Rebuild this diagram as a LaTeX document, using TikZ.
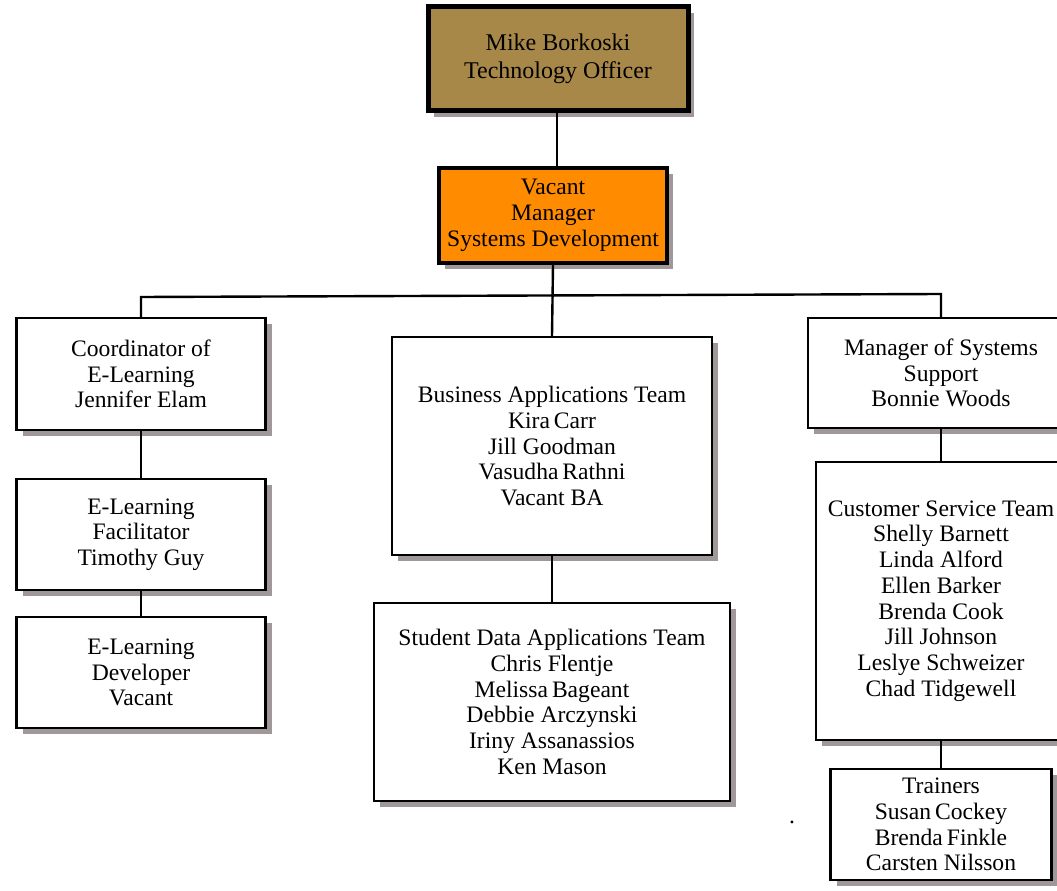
\documentclass[tikz,border=0pt]{standalone}
\usepackage{fontspec}
\setmainfont{Liberation Serif}
\usetikzlibrary{shadows}
\definecolor{officergold}{RGB}{168,136,72}
\definecolor{devorange}{RGB}{255,140,0}
\definecolor{shadowgray}{RGB}{160,152,152}

\begin{document}
\begin{tikzpicture}[x=0.75pt,y=-0.75pt,
  orgbox/.style={rectangle,draw=black,line width=1.8pt,fill=white,align=center,inner sep=0pt,
    font=\fontsize{17.7}{19.3}\selectfont,
    drop shadow={shadow xshift=4.5pt,shadow yshift=-4.5pt,fill=shadowgray,opacity=1}},
  link/.style={draw=black,line width=1.8pt}]
\useasboundingbox (0,0) rectangle (1057,891);
% head of the chart
\node[orgbox,fill=officergold,line width=3.75pt,minimum width=195pt,minimum height=78pt,
  font=\fontsize{18}{21}\selectfont] (officer) at (558,59) {Mike Borkoski\\Technology Officer};
\node[orgbox,fill=devorange,line width=3pt,minimum width=171pt,minimum height=71.25pt] (sysdev) at (553,215.5) {Vacant\\Manager\\Systems Development};
% left column
\node[orgbox,minimum width=186.75pt,minimum height=84pt] (ecoord) at (141,374) {Coordinator of\\E-Learning\\Jennifer Elam};
\node[orgbox,minimum width=186.75pt,minimum height=83.25pt] (facil) at (141,534.5) {E-Learning\\Facilitator\\Timothy Guy};
\node[orgbox,minimum width=186.75pt,minimum height=83.25pt] (devel) at (141,672.5) {E-Learning\\Developer\\Vacant};
% middle column
\node[orgbox,minimum width=240pt,minimum height=163.5pt] (bizapp) at (552,446) {Business Applications Team\\Kira\,Carr\\Jill Goodman\\Vasudha\,Rathni\\Vacant BA};
\node[orgbox,minimum width=267pt,minimum height=148.5pt] (stuapp) at (552,702) {Student Data Applications Team\\Chris Flentje\\Melissa\,Bageant\\Debbie Arczynski\\Iriny Assanassios\\Ken Mason};
% right column
\node[orgbox,minimum width=199.5pt,minimum height=82.5pt] (sysmgr) at (941,373) {Manager of Systems\\Support\\Bonnie Woods};
\node[orgbox,minimum width=187.5pt,minimum height=208.5pt] (custsvc) at (941,601) {Customer Service Team\\Shelly Barnett\\Linda Alford\\Ellen Barker\\Brenda Cook\\Jill Johnson\\Leslye Schweizer\\Chad Tidgewell};
\node[orgbox,minimum width=165.75pt,minimum height=83.25pt] (trainers) at (941,824.5) {Trainers\\Susan\,Cockey\\Brenda\,Finkle\\Carsten Nilsson};
\node[font=\fontsize{17.7}{19.3}\selectfont,inner sep=0pt] (dot) at (792,822) {.};
% connectors
\coordinate (busL) at (141,297);
\coordinate (busR) at (941,294);
\draw[link] (officer.south -| 557,0) -- (sysdev.north -| 557,0);
\draw[link] (sysdev.south) -- (bizapp.north);
\draw[link] (ecoord.north) -- (busL) -- (busR) -- (sysmgr.north);
\draw[link] (ecoord.south) -- (facil.north);
\draw[link] (facil.south) -- (devel.north);
\draw[link] (bizapp.south) -- (stuapp.north);
\draw[link] (sysmgr.south) -- (custsvc.north);
\draw[link] (custsvc.south) -- (trainers.north);
\end{tikzpicture}
\end{document}
